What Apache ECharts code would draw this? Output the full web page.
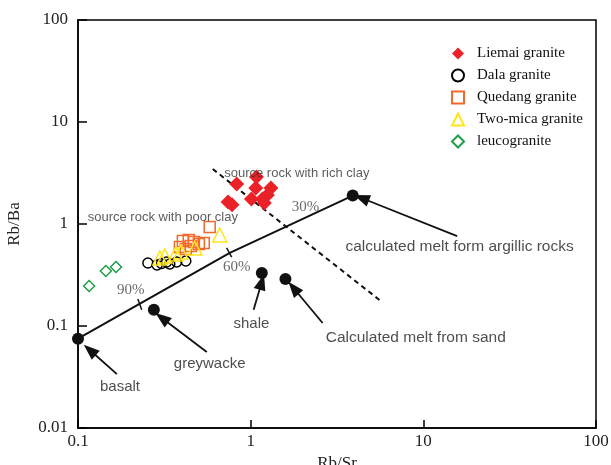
<!DOCTYPE html>
<html><head><meta charset="utf-8">
<script src="https://cdn.jsdelivr.net/npm/echarts@6/dist/echarts.min.js"></script>
<style>html,body{margin:0;padding:0;background:#fff}#c{width:611px;height:465px}</style>
</head><body><div id="c"></div>
<script>
// ---- data (Rb/Sr, Rb/Ba) ----
const xTicks = [0.1, 1, 10, 100];
const yTicks = [0.01, 0.1, 1, 10, 100];
const liemai = [[1.08,2.89],[0.83,2.47],[1.07,2.25],[1.31,2.25],[1.25,1.92],[1.01,1.76],[1.17,1.76],[1.20,1.61],[0.74,1.64],[0.78,1.54]];
const dala = [[0.254,0.415],[0.287,0.396],[0.326,0.424],[0.340,0.405],[0.373,0.424],[0.421,0.434],[0.305,0.410]];
const quedang = [[0.579,0.935],[0.405,0.681],[0.438,0.697],[0.469,0.666],[0.501,0.636],[0.535,0.651],[0.389,0.595],[0.421,0.568],[0.450,0.609]];
const twoMica = [[0.298,0.464],[0.318,0.486],[0.368,0.509],[0.394,0.532],[0.475,0.581],[0.662,0.780]];
const leuco = [[0.116,0.247],[0.145,0.346],[0.166,0.379]];
const endMembers = [[0.1,0.075],[0.275,0.144],[1.16,0.331],[1.59,0.289],[3.9,1.9]];
const mixingLine = [[0.1,0.075],[0.757,0.52],[3.9,1.9]];
const clayDivide = [[0.603,3.46],[5.57,0.180]];
const mixTicks = [[[0.222,0.184],[0.234,0.144]],[[0.726,0.582],[0.776,0.474]]];
const arrows = [
  [[0.168,0.0338],[0.117,0.0582]],
  [[0.557,0.0556],[0.306,0.120]],
  [[1.04,0.144],[1.16,0.270]],
  [[2.61,0.107],[1.77,0.236]],
  [[15.7,0.762],[4.38,1.80]]
];
const notes = [
  {text:'source rock with rich clay', at:[1.85,3.16], kind:'small', align:'center'},
  {text:'source rock with poor clay', at:[0.310,1.17], kind:'small', align:'center'},
  {text:'30%', at:[2.08,1.47], kind:'pct', align:'center'},
  {text:'60%', at:[0.83,0.379], kind:'pct', align:'center'},
  {text:'90%', at:[0.202,0.226], kind:'pct', align:'center'},
  {text:'calculated melt form argillic rocks', at:[3.54,0.596], kind:'long', align:'left'},
  {text:'shale', at:[1.01,0.105], kind:'big', align:'center'},
  {text:'greywacke', at:[0.579,0.0423], kind:'big', align:'center'},
  {text:'basalt', at:[0.175,0.0252], kind:'big', align:'center'},
  {text:'Calculated melt from sand', at:[2.72,0.0762], kind:'long', align:'left'}
];

const serif = '"Liberation Serif","DejaVu Serif",serif';
const sans = '"Liberation Sans",Arial,sans-serif';
const noteStyle = {
  small:{fontFamily:sans, fontSize:13, color:'#333'},
  pct:{fontFamily:serif, fontSize:15, color:'#444'},
  big:{fontFamily:sans, fontSize:15, color:'#222'},
  long:{fontFamily:sans, fontSize:15.5, color:'#222'}
};

const chart = echarts.init(document.getElementById('c'), null, {renderer:'canvas'});
const openStyle = (c)=>({color:'rgba(0,0,0,0)', borderColor:c, borderWidth:1.5, opacity:1});

chart.setOption({
  animation:false,
  backgroundColor:'#fff',
  grid:{left:78, right:15, top:20, bottom:37, outerBoundsMode:'none', containLabel:false,
        show:true, borderColor:'#000', borderWidth:1.5, backgroundColor:'transparent'},
  legend:{
    orient:'vertical', left:446, top:41, itemWidth:12, itemHeight:12, itemGap:7,
    data:['Liemai granite','Dala granite','Quedang granite','Two-mica granite','leucogranite'],
    textStyle:{fontFamily:serif, fontSize:15, color:'#111', lineHeight:14, padding:[0,0,0,8]}
  },
  xAxis:{
    type:'log', logBase:10, min:xTicks[0], max:xTicks[xTicks.length-1],
    name:'Rb/Sr', nameLocation:'middle', nameGap:23,
    nameTextStyle:{fontFamily:serif, fontSize:17, color:'#222'},
    axisLine:{lineStyle:{color:'#000', width:1.5}},
    axisTick:{inside:true, length:8, lineStyle:{color:'#000', width:1.5}},
    axisLabel:{fontFamily:serif, fontSize:17, color:'#222', margin:5},
    splitLine:{show:false}, minorTick:{show:false}
  },
  yAxis:{
    type:'log', logBase:10, min:yTicks[0], max:yTicks[yTicks.length-1],
    name:'Rb/Ba', nameLocation:'middle', nameGap:55,
    nameTextStyle:{fontFamily:serif, fontSize:17, color:'#222'},
    axisLine:{lineStyle:{color:'#000', width:1.5}},
    axisTick:{inside:true, length:9, lineStyle:{color:'#000', width:1.5}},
    axisLabel:{fontFamily:serif, fontSize:17, color:'#222', margin:10},
    splitLine:{show:false}, minorTick:{show:false}
  },
  series:[
    {name:'mixing', type:'line', data:mixingLine, symbol:'none', lineStyle:{color:'#111', width:2}, z:2,
     markLine:{silent:true, symbol:['none','none'], label:{show:false}, lineStyle:{color:'#111', width:1.5, type:'solid'},
       data:mixTicks.map(t=>[{coord:t[0]},{coord:t[1]}])}},
    {name:'divide', type:'line', data:clayDivide, symbol:'none', lineStyle:{color:'#111', width:2, type:[5,4]}, z:2},
    {name:'arrows', type:'line', data:[], markLine:{silent:true, symbol:['none','triangle'], symbolSize:[12,16],
       label:{show:false}, lineStyle:{color:'#111', width:1.8, type:'solid'},
       data:arrows.map(a=>[{coord:a[0]},{coord:a[1]}])}},
    {name:'end members', type:'scatter', data:endMembers, symbol:'circle', symbolSize:12, itemStyle:{color:'#111', opacity:1}, z:4},
    {name:'Liemai granite', type:'scatter', data:liemai, symbol:'diamond', symbolSize:15, itemStyle:{color:'#ea2228', opacity:1}, z:5},
    {name:'Dala granite', type:'scatter', data:dala, symbol:'circle', symbolSize:10, itemStyle:openStyle('#000'), z:5},
    {name:'Quedang granite', type:'scatter', data:quedang, symbol:'rect', symbolSize:11, itemStyle:openStyle('#f26a2a'), z:5},
    {name:'Two-mica granite', type:'scatter', data:twoMica, symbol:'triangle', symbolSize:14, itemStyle:openStyle('#ffe61a'), z:6},
    {name:'leucogranite', type:'scatter', data:leuco, symbol:'diamond', symbolSize:11, itemStyle:openStyle('#1f9e4a'), z:5},
    {name:'notes', type:'scatter', symbolSize:0, silent:true, z:7,
     data:notes.map(n=>({value:n.at, label:Object.assign({show:true, position:'inside', formatter:n.text, align:n.align, verticalAlign:'middle'}, noteStyle[n.kind])}))}
  ]
});
</script></body></html>
